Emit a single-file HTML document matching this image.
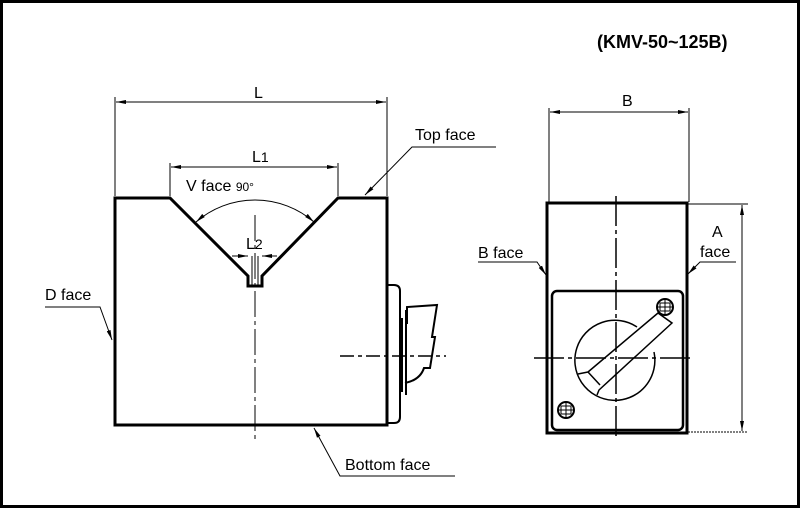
<!DOCTYPE html><html><head><style>body{margin:0;background:#fff}svg{display:block}text{font-family:"Liberation Sans",Arial,sans-serif;fill:#000}</style></head><body>
<svg width="800" height="508" viewBox="0 0 800 508" xmlns="http://www.w3.org/2000/svg">
<defs><marker id="a" markerWidth="10" markerHeight="6" refX="10" refY="3" orient="auto-start-reverse"><path d="M0,1 L10,3 L0,5z" fill="#000"/></marker></defs>
<rect x="1.5" y="1.5" width="797" height="505" fill="none" stroke="#000" stroke-width="3"/>
<text x="597" y="48" font-size="18" font-weight="bold">(KMV-50~125B)</text>
<g fill="none" stroke="#000">
<path d="M115,425 V198 H170 L248,276 V286 H262 V276 L338,198 H387 V425 Z" stroke-width="3"/>
<line x1="252" y1="256" x2="252" y2="286" stroke-width="1"/><line x1="258" y1="256" x2="258" y2="286" stroke-width="1"/>
<path d="M388,285 h6 q6,0 6,6 v126 q0,6 -6,6 h-6" stroke-width="2"/>
<path d="M402,318 V392 M406,310 V395" stroke-width="2"/>
<path d="M407,324 V307 L437,305 L432,337 L435,337 L430,368 L424,368 Q420,380 405,383" stroke-width="2"/>
<line x1="340" y1="356" x2="446" y2="356" stroke-width="1.5" stroke-dasharray="14,4,4,4"/>
<line x1="255" y1="215" x2="255" y2="442" stroke-width="1" stroke-dasharray="26,4,4,4"/>
<line x1="115" y1="97" x2="115" y2="196" stroke-width="1"/><line x1="387" y1="97" x2="387" y2="196" stroke-width="1"/>
<line x1="116" y1="102" x2="386" y2="102" stroke-width="1" marker-start="url(#a)" marker-end="url(#a)"/>
<line x1="170" y1="163" x2="170" y2="196" stroke-width="1"/><line x1="338" y1="163" x2="338" y2="196" stroke-width="1"/>
<line x1="171" y1="167" x2="337" y2="167" stroke-width="1" marker-start="url(#a)" marker-end="url(#a)"/>
<line x1="232" y1="256" x2="248" y2="256" stroke-width="1" marker-end="url(#a)"/><line x1="277" y1="256" x2="262" y2="256" stroke-width="1" marker-end="url(#a)"/>
<path d="M196,222 A90,90 0 0 1 314,222" stroke-width="1" marker-start="url(#a)" marker-end="url(#a)"/>
<path d="M496,147 H412 L365,195" stroke-width="1" marker-end="url(#a)"/>
<path d="M45,307 H100 L112,340" stroke-width="1" marker-end="url(#a)"/>
<path d="M455,476 H340 L314,428" stroke-width="1" marker-end="url(#a)"/>
<rect x="547" y="203" width="140" height="230" stroke-width="3"/>
<rect x="552" y="291" width="131" height="139" rx="5" stroke-width="2.5"/>
<path d="M637,327 A40,40 0 1 0 654,352" stroke-width="1.5"/>
<path d="M588,372 L658,313 L672,323 L599,390 L597,395 M588,372 L578,374 M588,372 L600,385" stroke-width="1.5"/>
<circle cx="665" cy="307" r="8" stroke-width="2"/><path d="M657,307h16M665,299v16M660,303h10v8h-10z" stroke-width="1"/>
<circle cx="566" cy="410" r="8" stroke-width="2"/><path d="M558,410h16M566,402v16M561,406h10v8h-10z" stroke-width="1"/>
<line x1="616" y1="196" x2="616" y2="440" stroke-width="1.5" stroke-dasharray="30,4,4,4"/>
<line x1="534" y1="358" x2="694" y2="358" stroke-width="1.5" stroke-dasharray="30,4,4,4"/>
<line x1="549" y1="108" x2="549" y2="202" stroke-width="1"/><line x1="689" y1="108" x2="689" y2="202" stroke-width="1"/>
<line x1="550" y1="112" x2="688" y2="112" stroke-width="1" marker-start="url(#a)" marker-end="url(#a)"/>
<line x1="688" y1="204" x2="748" y2="204" stroke-width="1"/><line x1="688" y1="432" x2="748" y2="432" stroke-width="1" stroke-dasharray="2,1"/>
<line x1="742" y1="205" x2="742" y2="431" stroke-width="1" marker-start="url(#a)" marker-end="url(#a)"/>
<path d="M736,262 H700 L688,274" stroke-width="1" marker-end="url(#a)"/>
<path d="M478,262 H537 L546,275" stroke-width="1" marker-end="url(#a)"/>
</g>
<g font-size="16">
<text x="254" y="98">L</text>
<text x="252" y="162">L<tspan font-size="14">1</tspan></text>
<text x="186" y="191">V face <tspan font-size="12">90°</tspan></text>
<text x="246" y="249">L<tspan font-size="14">2</tspan></text>
<text x="415" y="140">Top face</text>
<text x="45" y="300">D face</text>
<text x="345" y="470">Bottom face</text>
<text x="622" y="106">B</text>
<text x="712" y="237">A</text>
<text x="700" y="257">face</text>
<text x="478" y="258">B face</text>
</g>
</svg>
</body></html>
